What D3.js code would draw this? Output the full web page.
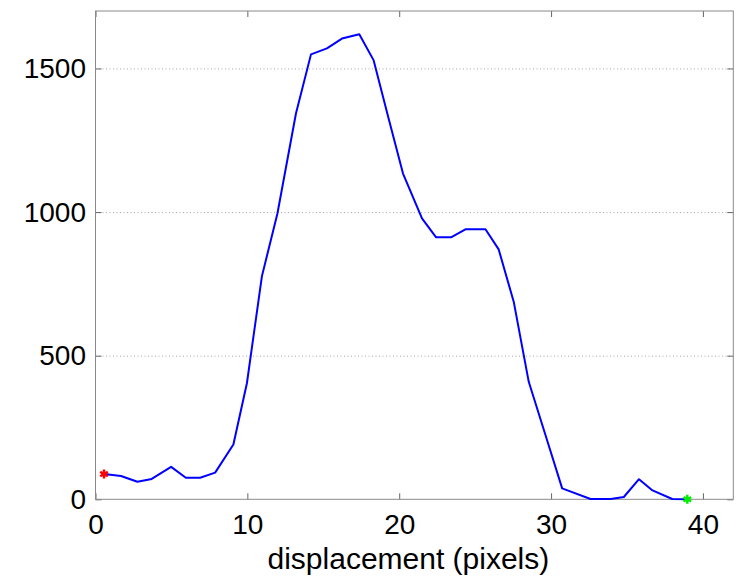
<!DOCTYPE html>
<html>
<head>
<meta charset="utf-8">
<script src="https://cdn.jsdelivr.net/npm/d3@7"></script>
<style>
  html, body { margin: 0; padding: 0; background: #fff; }
  svg { display: block; }
  text { font-family: "Liberation Sans", Arial, Helvetica, sans-serif; fill: #000; }
</style>
</head>
<body>
<script>
// Displacement profile samples (pixels) and their magnitudes
const displacement = [0.56, 1.68, 2.76, 3.70, 4.98, 5.95, 6.89, 7.88, 9.08, 9.97,
  10.96, 11.98, 13.20, 14.19, 15.24, 16.23, 17.37, 18.31, 19.28, 20.25,
  21.50, 22.43, 23.41, 24.36, 25.68, 26.55, 27.54, 28.53, 29.63, 30.73,
  32.60, 33.92, 34.79, 35.79, 36.68, 37.98, 38.97];
const magnitude = [88, 81, 61, 71, 113, 75, 75, 93, 191, 404,
  777, 995, 1343, 1549, 1570, 1604, 1619, 1529, 1330, 1134,
  978, 912, 912, 940, 940, 870, 688, 409, 224, 38,
  1, 1, 8, 70, 31, 1, 0];

const xTicks = [0, 10, 20, 30, 40];
const yTicks = [0, 500, 1000, 1500];
const xDomain = [0, 42];
const yDomain = [0, 1700];
const xLabel = "displacement (pixels)";

const W = 738, H = 580;
const m = { left: 95.5, top: 11, right: 4.7, bottom: 80.7 };
const iw = W - m.left - m.right, ih = H - m.top - m.bottom;

const svg = d3.select("body").append("svg").attr("width", W).attr("height", H);
const g = svg.append("g").attr("transform", `translate(${m.left},${m.top})`);

const x = d3.scaleLinear().domain(xDomain).range([0, iw]);
const y = d3.scaleLinear().domain(yDomain).range([ih, 0]);

// dotted horizontal grid
g.append("g").selectAll("line")
  .data(yTicks.filter(d => d > 0))
  .join("line")
  .attr("x1", 0).attr("x2", iw)
  .attr("y1", d => y(d) + 0.5).attr("y2", d => y(d) + 0.5)
  .attr("stroke", "#a8a8a8").attr("stroke-width", 1)
  .attr("stroke-dasharray", "1,2.5");

const tickFont = 28;
function styleAxis(sel, showLabels) {
  sel.select(".domain").remove();
  sel.selectAll(".tick line").attr("stroke", "#666").attr("stroke-width", 1);
  if (!showLabels) sel.selectAll(".tick text").remove();
  else sel.selectAll(".tick text").attr("font-size", tickFont).attr("fill", "#000");
}

g.append("g").attr("transform", `translate(0,${ih})`)
  .call(d3.axisBottom(x).tickValues(xTicks).tickFormat(d3.format("d")).tickSize(-6).tickPadding(15))
  .call(s => styleAxis(s, true));
g.append("g")
  .call(d3.axisTop(x).tickValues(xTicks).tickSize(-6))
  .call(s => styleAxis(s, false));
g.append("g")
  .call(d3.axisLeft(y).tickValues(yTicks).tickFormat(d3.format("d")).tickSize(-6).tickPadding(9.5))
  .call(s => styleAxis(s, true));
g.append("g").attr("transform", `translate(${iw},0)`)
  .call(d3.axisRight(y).tickValues(yTicks).tickSize(-6))
  .call(s => styleAxis(s, false));

// axes box
g.append("rect").attr("x", 0).attr("y", 0).attr("width", iw).attr("height", ih)
  .attr("fill", "none").attr("stroke", "#8a8a8a").attr("stroke-width", 1);

// profile line
const pts = displacement.map((d, i) => [d, magnitude[i]]);
g.append("path")
  .datum(pts)
  .attr("fill", "none")
  .attr("stroke", "#0000ff")
  .attr("stroke-width", 2)
  .attr("stroke-linejoin", "round")
  .attr("d", d3.line().x(d => x(d[0])).y(d => y(d[1])));

// start / end markers
const star = d3.symbol().type(d3.symbolAsterisk).size(55);
const ends = [
  { p: pts[0], c: "#ff0000" },
  { p: pts[pts.length - 1], c: "#00ee00" }
];
g.append("g").selectAll("path")
  .data(ends)
  .join("path")
  .attr("d", star)
  .attr("transform", d => `translate(${x(d.p[0])},${y(d.p[1])})`)
  .attr("fill", "none")
  .attr("stroke", d => d.c)
  .attr("stroke-width", 2.5);

// axis title
svg.append("text")
  .attr("x", m.left + iw / 2 - 6)
  .attr("y", 569)
  .attr("text-anchor", "middle")
  .attr("font-size", 30)
  .text(xLabel);
</script>
</body>
</html>
